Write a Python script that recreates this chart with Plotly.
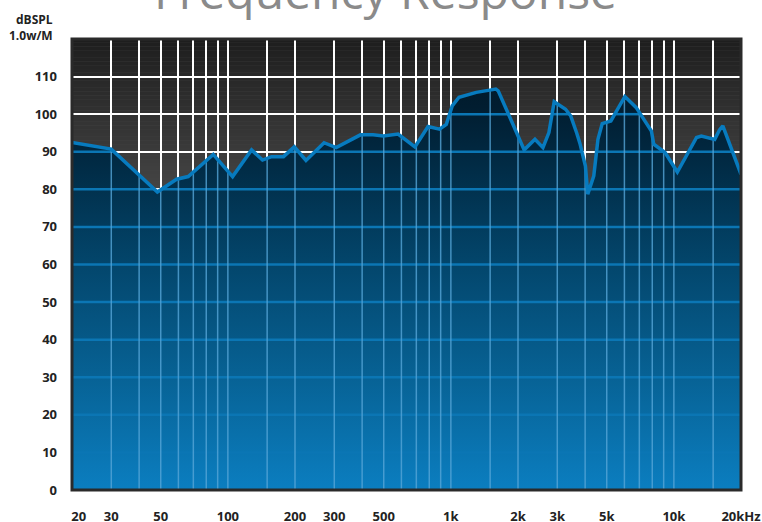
import numpy as np
import plotly.graph_objects as go

freq_hz = [20, 30, 48.3, 58.9, 66.4, 86, 105, 127.7, 143, 157, 177.6, 198.6, 224,
           270, 306, 393, 448, 498, 580, 634, 690, 790, 890, 954, 1014, 1088, 1300,
           1494, 1590, 1630, 2038, 2132, 2383, 2588, 2752, 2906, 3268, 3450, 3666,
           3788, 4012, 4110, 4374, 4566, 4772, 5218, 6030, 6768, 7932, 8126, 9128,
           10366, 12640, 13280, 15240, 16020, 16580, 20000]
spl_db = [92.5, 90.7, 79.3, 82.7, 83.4, 89.3, 83.4, 90.5, 87.8, 88.7, 88.7, 91.3, 87.7,
          92.4, 91.1, 94.5, 94.5, 94.2, 94.7, 92.9, 91.3, 96.7, 96.0, 97.3, 102.2, 104.5, 105.8,
          106.4, 106.7, 106.2, 93.3, 90.5, 93.3, 91.1, 95.1, 103.3, 101.3, 99.5, 95.0,
          92.3, 86.2, 78.7, 83.6, 93.3, 97.5, 98.2, 104.7, 101.8, 95.5, 92.0, 89.8,
          84.6, 93.8, 94.2, 93.3, 95.8, 96.9, 84.0]

grid_hz = [20, 30, 40, 50, 60, 70, 80, 90, 100, 150, 200, 300, 400, 500, 600, 700, 800,
           900, 1000, 1500, 2000, 3000, 4000, 5000, 6000, 7000, 8000, 9000, 10000, 15000, 20000]
# leading no-break spaces nudge the first label off the frame edge
hz_labels = {20: "\u00a0\u00a0\u00a0\u00a020", 30: "30", 50: "50", 100: "100", 200: "200",
             300: "300", 500: "500", 1000: "1k", 2000: "2k", 3000: "3k", 5000: "5k",
             10000: "10k", 20000: "20kHz"}
db_ticks = list(range(0, 120, 10))

FONT = "Open Sans"

lf = np.log10(freq_hz)


def spl_at(f):
    return float(np.interp(np.log10(f), lf, spl_db))


# blue grid under the curve: vertical pieces up to the curve
vx, vy = [], []
for f in grid_hz[1:-1]:
    vx += [f, f, None]
    vy += [0, spl_at(f), None]

# horizontal pieces only where the curve is above the level
xs = np.linspace(lf[0], lf[-1], 4000)
ys = np.interp(xs, lf, spl_db)
hx, hy = [], []
for lvl in db_ticks[1:]:
    above = ys > lvl
    i = 0
    while i < len(xs):
        if above[i]:
            j = i
            while j + 1 < len(xs) and above[j + 1]:
                j += 1
            hx += [10 ** xs[i], 10 ** xs[j], None]
            hy += [lvl, lvl, None]
            i = j + 1
        else:
            i += 1

fig = go.Figure()

fig.add_trace(go.Scatter(
    x=freq_hz, y=spl_db, mode="none", fill="tozeroy", hoverinfo="skip",
    fillgradient=dict(type="vertical", start=0, stop=120,
                      colorscale=[[0, "#0b7ec0"], [0.25, "#076295"], [0.5, "#03466c"],
                                  [0.72, "#012b45"], [0.85, "#011d30"], [1, "#001522"]])))
fig.add_trace(go.Scatter(x=hx, y=hy, mode="lines", hoverinfo="skip",
                         line=dict(color="#0b76b4", width=2.5)))
fig.add_trace(go.Scatter(x=vx, y=vy, mode="lines", hoverinfo="skip",
                         line=dict(color="rgba(85,165,215,0.8)", width=1.5)))
fig.add_trace(go.Scatter(x=freq_hz, y=spl_db, mode="lines", hoverinfo="skip",
                         line=dict(color="#077bbf", width=3.5)))

# gray backdrop gradient above the curve
shapes = []
top_c, low_c = np.array([30, 30, 30]), np.array([74, 74, 74])
for k in range(45):
    y0 = 75 + k
    t = (k + 0.5) / 45
    c = (low_c + (top_c - low_c) * t).astype(int)
    shapes.append(dict(type="rect", xref="paper", yref="y", x0=0, x1=1, y0=y0, y1=y0 + 1,
                       line=dict(width=0), fillcolor="rgb(%d,%d,%d)" % tuple(c), layer="below"))
shapes.append(dict(type="rect", xref="paper", yref="paper", x0=0, x1=1, y0=0, y1=1,
                   line=dict(color="#2a2a2a", width=3), layer="above"))

fig.update_layout(
    width=762, height=522,
    margin=dict(l=72, r=21, t=39, b=32, autoexpand=False),
    paper_bgcolor="white", plot_bgcolor="#4a4a4a",
    showlegend=False, shapes=shapes,
    font=dict(family=FONT, color="#222222"),
    annotations=[
        dict(text="Frequency Response", xref="paper", yref="paper", x=0.469, y=1.107,
             xanchor="center", yanchor="middle", showarrow=False,
             font=dict(family=FONT, size=48, color="#8a8a8a")),
        dict(text="dBSPL", xref="paper", yref="paper", x=-0.026, y=1.043,
             xanchor="right", yanchor="middle", showarrow=False,
             font=dict(family=FONT, size=12, color="#222222", weight="bold")),
        dict(text="1.0w/M", xref="paper", yref="paper", x=-0.026, y=1.008,
             xanchor="right", yanchor="middle", showarrow=False,
             font=dict(family=FONT, size=12, color="#222222", weight="bold")),
    ],
)

fig.update_xaxes(
    type="log", range=[np.log10(20), np.log10(20000)], automargin=False,
    tickvals=grid_hz, ticktext=[hz_labels.get(f, "") for f in grid_hz],
    showgrid=True, gridcolor="white", gridwidth=2, ticks="", ticklabelstandoff=17,
    tickfont=dict(family=FONT, size=13, color="#222222", weight="bold"),
    zeroline=False, showline=False,
)
fig.update_yaxes(
    range=[0, 120], tickvals=db_ticks, automargin=False,
    showgrid=True, gridcolor="white", gridwidth=2, ticks="", ticklabelstandoff=14,
    tickfont=dict(family=FONT, size=13, color="#222222", weight="bold"),
    zeroline=False, showline=False,
)

# the page's default body margin would shift the figure by 8px
fig.write_html("out.html", config={"displayModeBar": False},
               post_script="document.body.style.margin='0';")
